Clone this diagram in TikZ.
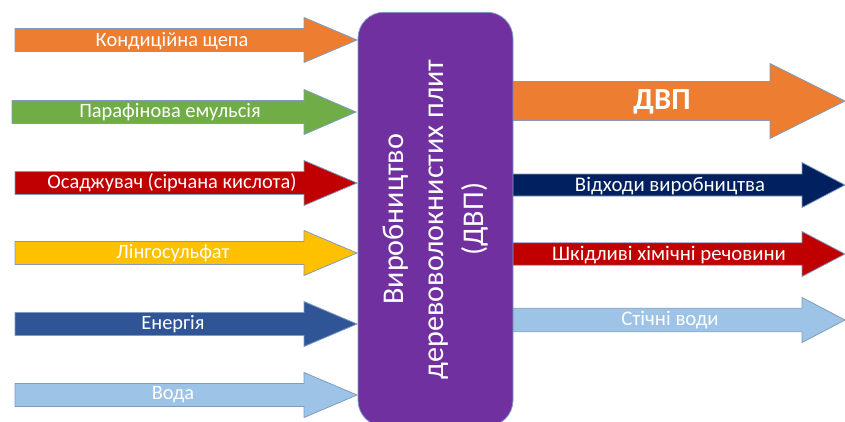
\documentclass[tikz,border=0pt]{standalone}
\usepackage{fontspec}
\setmainfont{Carlito}
\usetikzlibrary{positioning}

\definecolor{orangeA}{HTML}{ED7D31}
\definecolor{greenA}{HTML}{70AD47}
\definecolor{redA}{HTML}{C00000}
\definecolor{yellowA}{HTML}{FFC000}
\definecolor{blueA}{HTML}{2F5597}
\definecolor{lightA}{HTML}{9DC3E6}
\definecolor{navyA}{HTML}{002060}
\definecolor{purpleA}{HTML}{7030A0}
\definecolor{edgeA}{HTML}{7F9CC0}

% block arrow: options, tail x, head base x, tip x, centre y, half shaft, half head
\newcommand{\blockarrow}[7]{%
  \filldraw[#1] (#2,#5-#6) -- (#3,#5-#6) -- (#3,#5-#7) -- (#4,#5) -- (#3,#5+#7) -- (#3,#5+#6) -- (#2,#5+#6) -- cycle;}

\tikzset{
  arrowbody/.style={draw=edgeA, line width=0.6pt},
  inlabel/.style={text=white, font=\fontsize{15.3}{18}\selectfont, inner sep=0pt},
  outlabel/.style={text=white, font=\fontsize{15.6}{18}\selectfont, inner sep=0pt},
  procbox/.style={draw=edgeA, line width=0.6pt, fill=purpleA, rounded corners=19.5pt, text=white, align=center,
    font=\fontsize{22.6}{30}\selectfont, minimum width=310.5pt, minimum height=116.25pt}
}

\begin{document}
\begin{tikzpicture}[x=0.75pt, y=-0.75pt]
  \useasboundingbox (0,0) rectangle (845,421);

  % inputs
  \blockarrow{arrowbody, fill=orangeA}{15}{304}{357}{40}{11.5}{22.5}
  \blockarrow{arrowbody, fill=greenA}{12}{304}{356}{112}{11.5}{22.5}
  \blockarrow{arrowbody, fill=redA}{15}{304}{357}{183}{11.5}{22.5}
  \blockarrow{arrowbody, fill=yellowA}{15}{304}{357}{253}{11.5}{22.5}
  \blockarrow{arrowbody, fill=blueA}{15}{304}{357}{324}{11.5}{22.5}
  \blockarrow{arrowbody, fill=lightA}{15}{304}{357}{395}{11.5}{22.5}
  \node[inlabel] (shchepa) at (172,41) {Кондиційна щепа};
  \node[inlabel] (parafin) at (170,112) {Парафінова емульсія};
  \node[inlabel] (osadzh) at (172,183) {Осаджувач (сірчана кислота)};
  \node[inlabel] (lingo) at (173,253) {Лінгосульфат};
  \node[inlabel] (energy) at (173,324) {Енергія};
  \node[inlabel] (voda) at (173,395) {Вода};

  % outputs
  \blockarrow{arrowbody, fill=orangeA}{500}{770}{845}{101}{19.5}{37.5}
  \blockarrow{arrowbody, fill=navyA}{500}{802}{845}{185}{11}{22.5}
  \blockarrow{arrowbody, fill=redA}{500}{802}{845}{254}{11.2}{22.5}
  \blockarrow{arrowbody, fill=lightA}{500}{802}{845}{320}{11.7}{22.5}
  \node[outlabel, font=\fontsize{23}{27}\selectfont\bfseries] (dvp) at (662,102) {ДВП};
  \node[outlabel] (vidkhody) at (670,186) {Відходи виробництва};
  \node[outlabel] (shkidlyvi) at (669,255) {Шкідливі хімічні речовини};
  \node[outlabel] (stichni) at (670,320) {Стічні води};

  % process
  \node[procbox, rotate=90] (vyrob) at (435.5,219.25) {Виробництво\\деревоволокнистих плит\\(ДВП)};
\end{tikzpicture}
\end{document}
